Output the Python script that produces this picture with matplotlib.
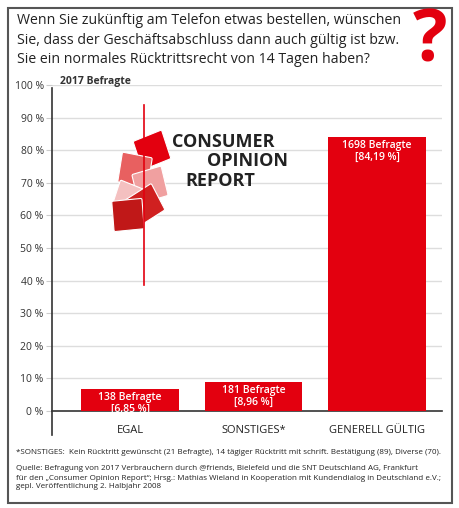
import matplotlib
matplotlib.use("Agg")
from matplotlib import pyplot as plt
from matplotlib.patches import Rectangle, FancyBboxPatch
import matplotlib.transforms as mtransforms

plt.rcParams['font.family'] = ['Open Sans', 'DejaVu Sans']

categories = ["EGAL", "SONSTIGES*", "GENERELL GÜLTIG"]
percent = [6.85, 8.96, 84.19]
counts = [138, 181, 1698]
pct_labels = ["6,85 %", "8,96 %", "84,19 %"]
yticks = list(range(0, 101, 10))

RED = "#e3000f"
fig = plt.figure(figsize=(4.59, 5.08), dpi=100)

# outer frame
fig.patches.append(Rectangle((8/459, 1-503/508), 444/459, 495/508, transform=fig.transFigure,
                             fill=False, ec="#555555", lw=1.5))

fig.text(17/459, 1-40/508,
         "Wenn Sie zukünftig am Telefon etwas bestellen, wünschen\n"
         "Sie, dass der Geschäftsabschluss dann auch gültig ist bzw.\n"
         "Sie ein normales Rücktrittsrecht von 14 Tagen haben?",
         fontsize=10.2, va="center", ha="left", color="#222222", linespacing=1.4)
fig.text(430/459, 1-42/508, "?", fontsize=52, fontweight="bold", color=RED, ha="center", va="center")

ax = fig.add_axes([52/459, 1-411/508, 390/459, 326/508])
x = range(len(categories))
bars = ax.bar(x, percent, width=0.79, color=RED, zorder=3)
ax.set_xlim(-0.632, 2.526)
ax.set_ylim(0, 100)
ax.set_yticks(yticks)
ax.set_yticklabels([f"{t} %" for t in yticks], fontsize=7.5, color="#333333")
ax.tick_params(axis="y", length=4, color="#cccccc", pad=2)
ax.tick_params(axis="x", length=0, pad=10, labelsize=8)
ax.set_xticks(list(x))
ax.set_xticklabels(categories, color="#222222")
for t in yticks[1:]:
    ax.axhline(t, color="#dddddd", lw=1, zorder=1)
for s in ["top", "right", "left"]:
    ax.spines[s].set_visible(False)
ax.spines["bottom"].set_color("#333333")
ax.spines["bottom"].set_linewidth(1.2)
ax.patch.set_alpha(0)
for b, c, p in zip(bars, counts, pct_labels):
    ax.text(b.get_x() + b.get_width()/2, b.get_height() - 1.0, f"{c} Befragte\n[{p}]",
            ha="center", va="top", color="white", fontsize=7.5, fontweight="semibold",
            linespacing=1.1, zorder=4)

# y axis line extending below the baseline
fig.add_artist(plt.Line2D([52/459, 52/459], [1-435/508, 1-88/508], transform=fig.transFigure,
                          color="#333333", lw=1.2))
fig.text(60/459, 1-82/508, "2017 Befragte", fontsize=7.5, fontweight="bold", color="#333333", va="center")

# logo
fig.add_artist(plt.Line2D([144/459, 144/459], [1-285/508, 1-105/508], transform=fig.transFigure,
                          color=RED, lw=1.2))
pieces = [(152, 150, RED, 20), (135, 170, "#e86060", -10), (150, 185, "#f0a0a0", 15),
          (130, 200, "#f4c0c0", -20), (145, 205, "#d02020", 30), (128, 215, "#c01818", 5)]
for px, py, col, rot in pieces:
    tr = mtransforms.Affine2D().rotate_deg_around(px/459, 1-py/508, rot) + fig.transFigure
    fig.add_artist(FancyBboxPatch((px/459 - 0.03, 1-py/508 - 0.027), 0.06, 0.054,
                                  boxstyle="round,pad=0.003", fc=col, ec="white", lw=0.8, transform=tr))
fig.text(172/459, 1-142/508, "CONSUMER", fontsize=13, fontweight="bold", color="#222222", va="center")
fig.text(207/459, 1-161/508, "OPINION", fontsize=13, fontweight="bold", color="#222222", va="center")
fig.text(185/459, 1-181/508, "REPORT", fontsize=13, fontweight="bold", color="#222222", va="center")

fig.text(16/459, 1-452/508,
         "*SONSTIGES:  Kein Rücktritt gewünscht (21 Befragte), 14 tägiger Rücktritt mit schrift. Bestätigung (89), Diverse (70).",
         fontsize=5.8, color="#222222", va="center")
fig.text(16/459, 1-478/508,
         "Quelle: Befragung von 2017 Verbrauchern durch @friends, Bielefeld und die SNT Deutschland AG, Frankfurt\n"
         "für den „Consumer Opinion Report“; Hrsg.: Mathias Wieland in Kooperation mit Kundendialog in Deutschland e.V.;\n"
         "gepl. Veröffentlichung 2. Halbjahr 2008",
         fontsize=5.8, color="#222222", va="center", linespacing=1.4)

fig.savefig("out.png", dpi=100)
